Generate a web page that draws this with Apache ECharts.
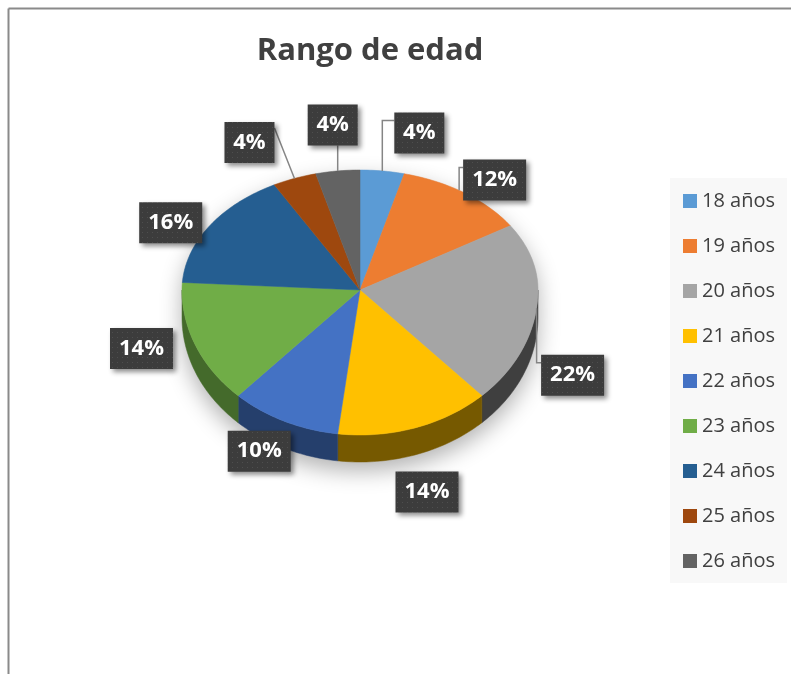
<!DOCTYPE html>
<html>
<head>
<meta charset="utf-8">
<title>Rango de edad</title>
<script src="https://cdn.jsdelivr.net/npm/echarts@6/dist/echarts.min.js"></script>
<style>
    html, body { margin: 0; padding: 0; background: #ffffff; }
    #main { width: 791px; height: 674px; }
</style>
</head>
<body>
<div id="main"></div>
<script>
// datos del gráfico (porcentajes por edad)
const categories = ['18 años', '19 años', '20 años', '21 años', '22 años', '23 años', '24 años', '25 años', '26 años'];
const values = [4, 12, 22, 14, 10, 14, 16, 4, 4];
const colors = ['#5B9BD5', '#ED7D31', '#A5A5A5', '#FFC000', '#4472C4', '#70AD47', '#255E91', '#9E480E', '#636363'];

// geometría del pastel 3D (elipse con perspectiva)
const CX = 360, CY = 290, RX = 178, RY_BACK = 120, RY_FRONT = 145, DEPTH = 27;
// desplazamiento de cada etiqueta desde el borde del sector, y tipo de línea guía
const labelShift = [[37, -38], [30, -13], [36, 67], [12, 64], [-25, 30], [-53, 5], [-39, -3], [-45, -36], [-5, -46]];
const leaderType = ['elbow', 'elbow', 'elbow', 'none', 'none', 'none', 'none', 'straight', 'vertical'];

const total = values.reduce((a, b) => a + b, 0);
const startFrac = [];
let acc = 0;
values.forEach(v => { startFrac.push(acc / total); acc += v; });

const seriesData = values.map((v, i) => ({ name: categories[i], value: [v, startFrac[i]] }));

// t: ángulo en sentido horario desde las 12
function rimPoint(t, dy) {
    const c = Math.cos(t);
    return [CX + RX * Math.sin(t), CY - (c > 0 ? RY_BACK : RY_FRONT) * c + (dy || 0)];
}
function arc(t0, t1, dy) {
    const n = Math.max(2, Math.ceil(Math.abs(t1 - t0) / 0.02));
    const pts = [];
    for (let k = 0; k <= n; k++) pts.push(rimPoint(t0 + (t1 - t0) * k / n, dy));
    return pts;
}
function darken(hex, f) {
    const n = parseInt(hex.slice(1), 16);
    const r = Math.round(((n >> 16) & 255) * f), g = Math.round(((n >> 8) & 255) * f), b = Math.round((n & 255) * f);
    return 'rgb(' + r + ',' + g + ',' + b + ')';
}
function sliceAngles(api) {
    const t0 = api.value(1) * Math.PI * 2;
    return [t0, t0 + api.value(0) / total * Math.PI * 2];
}

// textura punteada de las etiquetas
const dots = document.createElement('canvas');
dots.width = dots.height = 5;
const g = dots.getContext('2d');
g.fillStyle = '#3c3c3c';
g.fillRect(0, 0, 5, 5);
g.fillStyle = '#4e4e4e';
g.fillRect(2, 2, 1, 1);

var myChart = echarts.init(document.getElementById('main'));

var option = {
    animation: false,
    color: colors,
    title: {
        text: 'Rango de edad',
        left: 365,
        top: 31,
        textAlign: 'center',
        textStyle: { fontFamily: 'Open Sans', fontWeight: 'bold', fontSize: 31, color: '#404040' }
    },
    legend: {
        orient: 'vertical',
        left: 670,
        top: 178,
        padding: [13, 12, 12, 13],
        backgroundColor: '#f8f8f8',
        icon: 'rect',
        itemWidth: 14,
        itemHeight: 14,
        itemGap: 25,
        data: categories,
        textStyle: { fontFamily: 'Open Sans', fontSize: 20, lineHeight: 20, color: '#404040' }
    },
    graphic: [
        { type: 'line', shape: { x1: 8.5, y1: 8.5, x2: 791, y2: 8.5 }, style: { stroke: '#8a8a8a', lineWidth: 2 } },
        { type: 'line', shape: { x1: 8.5, y1: 8.5, x2: 8.5, y2: 674 }, style: { stroke: '#8a8a8a', lineWidth: 2 } }
    ],
    series: [
        {
            // sólo alimenta la leyenda
            type: 'pie',
            radius: [0, 0],
            silent: true,
            label: { show: false },
            labelLine: { show: false },
            data: values.map((v, i) => ({ name: categories[i], value: v }))
        },
        {
            // sombra bajo el pastel
            type: 'custom',
            coordinateSystem: 'none',
            silent: true,
            data: [0],
            renderItem: function () {
                const pts = arc(Math.PI / 2, -Math.PI / 2, 0).concat(arc(Math.PI * 1.5, Math.PI / 2, DEPTH));
                return {
                    type: 'polygon',
                    shape: { points: pts },
                    style: { fill: '#cfcfcf', shadowBlur: 22, shadowOffsetY: 9, shadowColor: 'rgba(0,0,0,0.3)' }
                };
            }
        },
        {
            // paredes laterales visibles (mitad frontal)
            type: 'custom',
            coordinateSystem: 'none',
            silent: true,
            data: seriesData,
            renderItem: function (params, api) {
                const [t0, t1] = sliceAngles(api);
                const lo = Math.max(t0, Math.PI / 2), hi = Math.min(t1, Math.PI * 1.5);
                if (hi <= lo) return { type: 'group', children: [] };
                const pts = arc(lo, hi, 0).concat(arc(hi, lo, DEPTH));
                const f = 0.5 - 0.12 * Math.sin((t0 + t1) / 2);
                const c = darken(colors[params.dataIndex], f);
                return {
                    type: 'polygon',
                    shape: { points: pts },
                    style: { fill: c, stroke: c, lineWidth: 0.5 }
                };
            }
        },
        {
            // cara superior de cada sector
            type: 'custom',
            coordinateSystem: 'none',
            silent: true,
            data: seriesData,
            renderItem: function (params, api) {
                const [t0, t1] = sliceAngles(api);
                const pts = [[CX, CY]].concat(arc(t0, t1, 0));
                const c = colors[params.dataIndex];
                return {
                    type: 'polygon',
                    shape: { points: pts },
                    style: { fill: c, stroke: c, lineWidth: 0.5 }
                };
            }
        },
        {
            // etiquetas de porcentaje
            type: 'custom',
            coordinateSystem: 'none',
            silent: true,
            data: seriesData,
            renderItem: function (params, api) {
                const i = params.dataIndex;
                const [t0, t1] = sliceAngles(api);
                const mid = (t0 + t1) / 2;
                const edge = rimPoint(mid, 0);
                const text = Math.round(api.value(0) / total * 100) + '%';
                const w = 24 + 13 * text.length, h = 41;
                const bx = edge[0] + labelShift[i][0] - w / 2;
                const by = edge[1] + labelShift[i][1] - h / 2;
                const children = [];
                let line = null;
                if (leaderType[i] === 'elbow') {
                    const ax = Math.min(edge[0], bx - 4);
                    const s = (ax - CX) / RX;
                    const t = Math.cos(mid) > 0 ? Math.asin(s) : Math.PI - Math.asin(s);
                    const p = rimPoint(t, 0);
                    line = [p, [ax, by + 8], [bx, by + 8]];
                } else if (leaderType[i] === 'straight') {
                    line = [edge, [bx + w, by + 6]];
                } else if (leaderType[i] === 'vertical') {
                    line = [edge, [edge[0], by + h]];
                }
                if (line) {
                    children.push({
                        type: 'polyline',
                        shape: { points: line },
                        style: { stroke: '#858585', lineWidth: 1.5, fill: null }
                    });
                }
                children.push({
                    type: 'rect',
                    shape: { x: bx, y: by, width: w, height: h },
                    style: {
                        fill: { image: dots, repeat: 'repeat' },
                        shadowBlur: 5, shadowOffsetX: 3, shadowOffsetY: 3, shadowColor: 'rgba(0,0,0,0.45)'
                    }
                });
                children.push({
                    type: 'text',
                    x: bx + w / 2,
                    y: by + h / 2,
                    style: {
                        text: text, fill: '#ffffff', align: 'center', verticalAlign: 'middle',
                        fontFamily: 'Open Sans', fontWeight: 'bold', fontSize: 22
                    }
                });
                return { type: 'group', children: children };
            }
        }
    ]
};

myChart.setOption(option);
window.addEventListener('resize', function () {
    myChart.resize();
});
</script>
</body>
</html>
